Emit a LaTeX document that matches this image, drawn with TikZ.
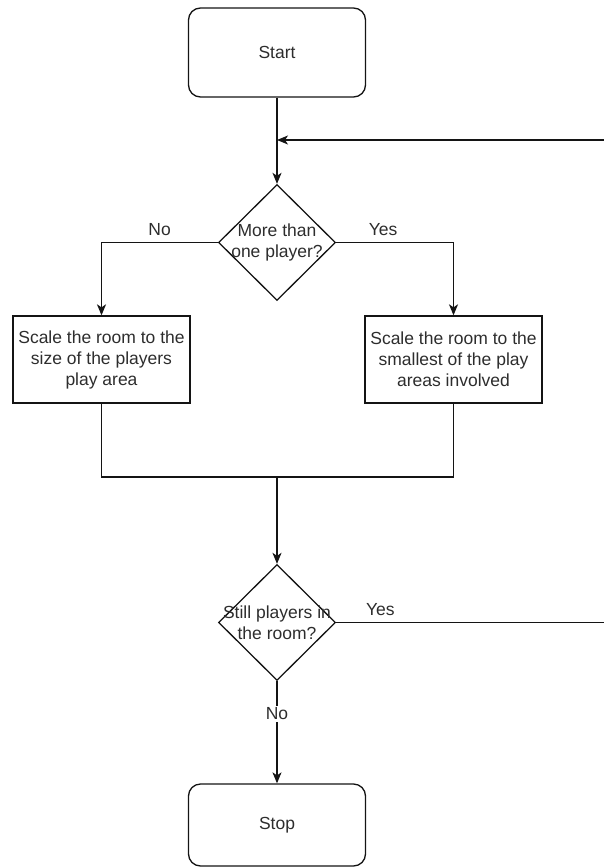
\documentclass[tikz,border=0pt]{standalone}
\usepackage{fontspec}
\setmainfont{Liberation Sans}
\usepackage{tikz}
\usetikzlibrary{
  shapes.geometric,
  arrows.meta
}
\definecolor{linecolor}{RGB}{20, 20, 20}
\definecolor{labelcolor}{RGB}{45, 45, 45}
\tikzset{
blocktext/.style={
  align=center,
  font=\fontsize{17.5}{21}\selectfont,
  text=labelcolor
},
terminalblock/.style={
  draw=linecolor,
  line width=1.3pt,
  rounded corners=12pt,
  minimum width=177pt,
  minimum height=89pt,
  blocktext
},
processblock/.style={
  draw=linecolor,
  line width=1.3pt,
  minimum width=177pt,
  minimum height=87pt,
  inner sep=0pt,
  blocktext
},
decisionblock/.style={
  diamond,
  draw=linecolor,
  line width=1.3pt,
  minimum width=117pt,
  minimum height=116pt,
  inner sep=0pt
},
edgelabel/.style={
  blocktext,
  inner sep=2pt
},
connector/.style={
  line width=1.3pt,
  draw=linecolor
},
arrow/.style={
  connector,
  -{Stealth[length=11pt,width=9pt,inset=3pt]}
}
}

\begin{document}
\begin{tikzpicture}[x=1pt, y=-1pt]
  \useasboundingbox (0,0) rectangle (604,867);
  \clip (0,0) rectangle (604,867);

  \node[terminalblock] (start) at (277,52.5) {Start};
  \node[decisionblock, label={[blocktext]center:More than\\one player?}] (morethanone) at (277,242.5) {};
  \node[processblock] (singlearea) at (101.5,359.5) {Scale the room to the\\size of the players\\play area};
  \node[processblock] (smallestarea) at (453.5,359.5) {Scale the room to the\\smallest of the play\\areas involved};
  \node[decisionblock, label={[blocktext]center:Still players in\\the room?}] (stillplayers) at (277,622.5) {};
  \node[terminalblock, minimum height=82pt] (stop) at (277,825) {Stop};

  \coordinate (merge) at (277,477);
  \coordinate (loopout) at (612,622.5);
  \coordinate (loopjoin) at (277,140);

  % branches
  \draw[arrow] (start) -- (morethanone);
  \draw[arrow] (morethanone.west) -| node[edgelabel, above=4pt, pos=0.25] {No} (singlearea.north);
  \draw[arrow] (morethanone.east) -| node[edgelabel, above=4pt, pos=0.2] {Yes} (smallestarea.north);
  \draw[connector] (singlearea.south) |- (merge);
  \draw[connector] (smallestarea.south) |- (merge);
  \draw[arrow] (merge) -- (stillplayers.north);

  % loop back or stop
  \draw[arrow] (stillplayers.east) -- node[edgelabel, above=4pt, pos=0.16] {Yes} (loopout) |- (loopjoin);
  \draw[arrow] (stillplayers.south) -- node[edgelabel, fill=white, pos=0.32] {No} (stop.north);
\end{tikzpicture}
\end{document}
